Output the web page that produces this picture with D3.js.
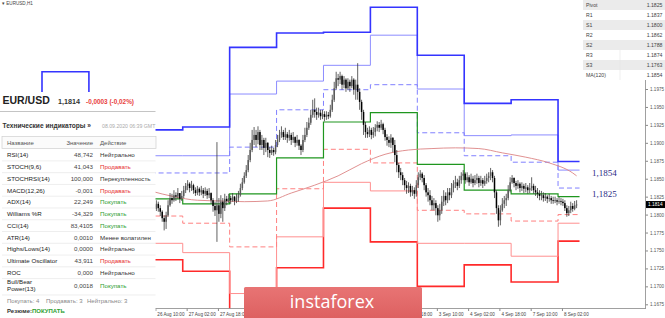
<!DOCTYPE html>
<html><head><meta charset="utf-8">
<script src="https://cdn.jsdelivr.net/npm/d3@7"></script>
<style>html,body{margin:0;padding:0;background:#fff}svg{display:block}</style>
</head><body>
<svg id="c" width="665" height="318"></svg>
<script>
// ---------------- DATA ----------------
const days = ["21 Aug","24 Aug","25 Aug","26 Aug","27 Aug","28 Aug","31 Aug","1 Sep","2 Sep","3 Sep","4 Sep","7 Sep","8 Sep"];
const levelR3 = [1.1950,1.1999,1.1935,1.1918,1.1922,1.2033,1.2053,1.2054,1.2089,1.2022,1.1955,1.1960,1.1874];
const levelR2 = [1.1920,1.1955,1.1905,1.1882,1.1882,1.1968,1.1986,1.2008,1.2050,1.1975,1.1910,1.1911,1.1862];
const levelR1 = [1.1890,1.1905,1.1875,1.1858,1.1858,1.1894,1.1946,1.1974,1.1981,1.1914,1.1882,1.1873,1.1837];
const levelP  = [1.1840,1.1850,1.1835,1.1822,1.1815,1.1829,1.1879,1.1929,1.1942,1.1870,1.1834,1.1829,1.1825];
const levelS1 = [1.1800,1.1810,1.1805,1.1798,1.1788,1.1755,1.1836,1.1891,1.1872,1.1806,1.1801,1.1791,1.1800];
const levelS2 = [1.1770,1.1780,1.1775,1.1760,1.1747,1.1690,1.1769,1.1845,1.1833,1.1760,1.1760,1.1742,1.1788];
const levelS3 = [1.1720,1.1740,1.1745,1.1737,1.1721,1.1630,1.1726,1.1809,1.1762,1.1700,1.1730,1.1706,1.1763];

const candleStart = "26 Aug 07:00";
const firstOpen = 1.1808;
const closes = [
1.1811,1.1813,1.1808,1.1815,1.1809,1.1804,1.1795,1.1790,1.1799,
1.1813,1.1823,1.1820,1.1827,1.1825,1.1830,1.1822,1.1826,
1.1834,1.1840,1.1843,1.1837,1.1841,1.1834,1.1830,1.1836,
1.1831,1.1834,1.1829,1.1833,1.1827,1.1830,1.1820,1.1812,
1.1806,1.1813,1.1801,1.1818,1.1809,1.1822,1.1819,1.1823,
1.1820,1.1825,1.1819,1.1823,1.1827,1.1837,1.1845,1.1854,
1.1862,1.1876,1.1890,1.1904,1.1911,1.1904,1.1915,1.1897,
1.1904,1.1893,1.1900,1.1890,1.1886,1.1890,1.1887,1.1897,
1.1904,1.1911,1.1915,1.1908,1.1912,1.1907,1.1911,1.1904,
1.1908,1.1900,1.1904,1.1896,1.1890,1.1904,1.1911,1.1921,
1.1928,1.1939,1.1946,1.1943,1.1939,1.1942,1.1937,1.1940,
1.1936,1.1939,1.1937,1.1946,1.1960,1.1976,1.1990,1.1988,
1.1993,1.1981,1.1988,1.1976,1.1985,1.1979,1.1988,1.1974,
1.1981,1.1971,1.1957,1.1943,1.1925,1.1915,1.1912,1.1918,
1.1911,1.1915,1.1921,1.1925,1.1921,1.1926,1.1918,1.1908,
1.1904,1.1900,1.1907,1.1897,1.1883,1.1869,1.1859,1.1855,
1.1848,1.1841,1.1837,1.1840,1.1831,1.1834,1.1829,1.1841,
1.1852,1.1857,1.1851,1.1841,1.1831,1.1827,1.1820,1.1813,
1.1816,1.1809,1.1799,1.1806,1.1818,1.1826,1.1820,1.1831,
1.1827,1.1837,1.1843,1.1845,1.1840,1.1848,1.1854,1.1857,
1.1848,1.1852,1.1845,1.1850,1.1844,1.1848,1.1851,1.1844,
1.1848,1.1843,1.1847,1.1851,1.1854,1.1859,1.1851,1.1831,
1.1809,1.1792,1.1806,1.1815,1.1820,1.1823,1.1834,1.1845,
1.1851,1.1844,1.1840,1.1843,1.1837,1.1840,1.1836,1.1838,
1.1834,1.1837,1.1840,1.1834,1.1831,1.1829,1.1826,1.1827,
1.1823,1.1825,1.1822,1.1823,1.1820,1.1819,1.1820,1.1818,
1.1819,1.1818,1.1816,1.1809,1.1802,1.1806,1.1812,1.1808,
1.1813,1.1814];
const highs = [
1.1820,1.1820,1.1816,1.1820,1.1818,1.1813,1.1806,1.1799,1.1804,
1.1820,1.1830,1.1829,1.1834,1.1831,1.1837,1.1830,1.1833,
1.1840,1.1844,1.1848,1.1845,1.1847,1.1843,1.1838,1.1840,
1.1838,1.1840,1.1837,1.1838,1.1836,1.1837,1.1831,1.1823,
1.1818,1.1901,1.1823,1.1827,1.1823,1.1829,1.1826,1.1829,
1.1826,1.1830,1.1826,1.1829,1.1833,1.1843,1.1851,1.1859,
1.1869,1.1883,1.1900,1.1918,1.1922,1.1918,1.1923,1.1918,
1.1911,1.1907,1.1907,1.1901,1.1894,1.1896,1.1893,1.1904,
1.1911,1.1918,1.1923,1.1918,1.1921,1.1915,1.1918,1.1914,
1.1915,1.1909,1.1911,1.1905,1.1898,1.1911,1.1921,1.1929,
1.1935,1.1946,1.1960,1.1962,1.1949,1.1949,1.1946,1.1946,
1.1944,1.1944,1.1943,1.1953,1.1967,1.1985,1.1999,1.1996,
1.1999,1.1995,1.1993,1.1990,1.1990,1.1988,1.1993,1.1990,
1.1988,1.2011,1.1976,1.1960,1.1946,1.1929,1.1921,1.1923,
1.1921,1.1922,1.1926,1.1930,1.1929,1.1932,1.1928,1.1921,
1.1912,1.1909,1.1912,1.1908,1.1904,1.1890,1.1872,1.1865,
1.1859,1.1851,1.1847,1.1845,1.1843,1.1840,1.1838,1.1848,
1.1859,1.1862,1.1859,1.1855,1.1844,1.1837,1.1834,1.1826,
1.1823,1.1820,1.1813,1.1815,1.1826,1.1834,1.1831,1.1837,
1.1837,1.1844,1.1848,1.1854,1.1850,1.1854,1.1859,1.1862,
1.1859,1.1859,1.1855,1.1857,1.1854,1.1855,1.1857,1.1854,
1.1854,1.1851,1.1854,1.1857,1.1859,1.1865,1.1862,1.1854,
1.1834,1.1813,1.1813,1.1823,1.1826,1.1829,1.1841,1.1852,
1.1855,1.1852,1.1847,1.1848,1.1845,1.1845,1.1843,1.1844,
1.1841,1.1844,1.1852,1.1843,1.1840,1.1837,1.1834,1.1833,
1.1831,1.1830,1.1827,1.1829,1.1826,1.1825,1.1825,1.1823,
1.1825,1.1823,1.1822,1.1820,1.1813,1.1812,1.1818,1.1816,
1.1819,1.1820];
const lows = [
1.1806,1.1806,1.1804,1.1805,1.1804,1.1798,1.1790,1.1778,1.1780,
1.1797,1.1811,1.1815,1.1818,1.1819,1.1822,1.1816,1.1819,
1.1823,1.1830,1.1834,1.1831,1.1833,1.1829,1.1826,1.1827,
1.1826,1.1827,1.1823,1.1826,1.1822,1.1823,1.1815,1.1804,
1.1798,1.1762,1.1790,1.1795,1.1790,1.1805,1.1813,1.1816,
1.1815,1.1818,1.1813,1.1816,1.1818,1.1825,1.1834,1.1843,
1.1851,1.1859,1.1873,1.1887,1.1897,1.1894,1.1898,1.1890,
1.1890,1.1883,1.1887,1.1880,1.1879,1.1883,1.1882,1.1884,
1.1894,1.1901,1.1907,1.1904,1.1904,1.1900,1.1903,1.1897,
1.1900,1.1894,1.1896,1.1890,1.1883,1.1887,1.1901,1.1908,
1.1918,1.1925,1.1935,1.1935,1.1932,1.1935,1.1932,1.1933,
1.1930,1.1932,1.1933,1.1935,1.1943,1.1957,1.1974,1.1979,
1.1982,1.1974,1.1976,1.1971,1.1974,1.1971,1.1976,1.1967,
1.1960,1.1960,1.1946,1.1932,1.1911,1.1907,1.1907,1.1908,
1.1905,1.1907,1.1909,1.1916,1.1915,1.1918,1.1912,1.1903,
1.1896,1.1894,1.1893,1.1887,1.1873,1.1859,1.1851,1.1848,
1.1841,1.1834,1.1829,1.1830,1.1825,1.1826,1.1822,1.1825,
1.1837,1.1848,1.1845,1.1834,1.1825,1.1818,1.1813,1.1806,
1.1806,1.1799,1.1790,1.1792,1.1801,1.1812,1.1813,1.1816,
1.1820,1.1823,1.1831,1.1837,1.1834,1.1837,1.1843,1.1848,
1.1843,1.1845,1.1840,1.1843,1.1838,1.1841,1.1843,1.1838,
1.1840,1.1837,1.1840,1.1843,1.1845,1.1848,1.1845,1.1823,
1.1801,1.1783,1.1785,1.1804,1.1809,1.1812,1.1820,1.1831,
1.1843,1.1838,1.1834,1.1836,1.1831,1.1833,1.1830,1.1831,
1.1829,1.1830,1.1833,1.1829,1.1826,1.1823,1.1820,1.1820,
1.1818,1.1819,1.1816,1.1818,1.1815,1.1815,1.1816,1.1813,
1.1815,1.1813,1.1812,1.1805,1.1797,1.1798,1.1802,1.1804,
1.1806,1.1809];

const maTimes = ["26 Aug 07:00","26 Aug 19:00","27 Aug 07:00","27 Aug 19:00","28 Aug 07:00","28 Aug 19:00","31 Aug 07:00","31 Aug 19:00","1 Sep 07:00","1 Sep 19:00","2 Sep 07:00","2 Sep 19:00","3 Sep 07:00","3 Sep 19:00","4 Sep 07:00","4 Sep 19:00","7 Sep 07:00","7 Sep 19:00","8 Sep 07:00","8 Sep 09:00"];
const maValues = [1.1833,1.1825,1.1820,1.1819,1.1818,1.1819,1.1830,1.1841,1.1854,1.1871,1.1884,1.1890,1.1892,1.1893,1.1892,1.1886,1.1880,1.1872,1.1858,1.1854];

const timeLabels = ["26 Aug 10:00","27 Aug 02:00","27 Aug 18:00","28 Aug 10:00","31 Aug 02:00","31 Aug 18:00","1 Sep 10:00","2 Sep 02:00","2 Sep 18:00","3 Sep 10:00","4 Sep 02:00","4 Sep 18:00","7 Sep 10:00","8 Sep 02:00"];
const priceTicks = [1.1675,1.1700,1.1725,1.1750,1.1775,1.1800,1.1825,1.1850,1.1875,1.1900,1.1925,1.1950,1.1975];

const pivotNames = ["Pivot","R1","S1","R2","S2","R3","S3","MA(120)"];
const pivotValues = ["1.1825","1.1837","1.1800","1.1862","1.1788","1.1874","1.1763","1.1854"];

const indNames = ["RSI(14)","STOCH(9,6)","STOCHRSI(14)","MACD(12,26)","ADX(14)","Williams %R","CCI(14)","ATR(14)","Highs/Lows(14)","Ultimate Oscillator","ROC","Bull/Bear|Power(13)"];
const indValues = ["48,742","41,043","100,000","-0,001","22,249","-34,329","83,4105","0,0010","0,0000","43,911","0,000","0,0018"];
const indActions = ["Нейтрально","Продавать","Перекупленность","Продавать","Покупать","Покупать","Покупать","Менее волатилен","Нейтрально","Продавать","Нейтрально","Покупать"];

const lastPrice = 1.1814;
const maLabel = 1.1854, pivotLabel = 1.1825;

// ---------------- SETUP ----------------
const svg = d3.select("#c");
const SANS = "'Liberation Sans', Arial, sans-serif";
const barIndex = s => { const p = s.split(" "); const d = p[0]+" "+p[1]; const h = p[2] ? +p[2].split(":")[0] : 0; return (days.indexOf(d)-1)*24 + h; };

const x = d3.scaleLinear().domain([0, 309]).range([42, 646]);
const y = d3.scaleLinear().domain([1.1675, 1.1975]).range([304.3, 89]);
const plotW = 646, plotH = 308.5;

const defs = svg.append("defs");
defs.append("clipPath").attr("id","clip")
  .append("rect").attr("x",0).attr("y",0).attr("width",plotW).attr("height",plotH);
const plot = svg.append("g").attr("clip-path","url(#clip)");

// ---- candles data
const c0 = barIndex(candleStart);
const candles = closes.map((c,i)=>({i:c0+i, o: i===0?firstOpen:closes[i-1], c, h:highs[i], l:lows[i]}));
const lastIdx = c0 + closes.length;

// ---- pivot step lines
const levelEnd = lastIdx + 1;
const stepLine = d3.line().curve(d3.curveStepAfter).x(d=>x(d[0])).y(d=>y(d[1]));
const lvPts = arr => { const pts = arr.map((v,k)=>[(k-1)*24, v]); pts.push([levelEnd, arr[arr.length-1]]); return pts; };
const series = [
  {v:levelS3, c:"#ff2a2a", w:1.6},
  {v:levelS2, c:"#ff8f8f", w:1},
  {v:levelS1, c:"#ff8080", w:1, dash:"5,3"},
  {v:levelR2, c:"#8c8cff", w:1},
  {v:levelR1, c:"#8080ff", w:1, dash:"5,3"},
  {v:levelR3, c:"#3434ff", w:1.6},
  {v:levelP,  c:"#1f961f", w:1.2}
];
series.forEach(s=>{
  plot.append("path").attr("d", stepLine(lvPts(s.v))).attr("fill","none")
    .attr("stroke", s.c).attr("stroke-width", s.w).attr("stroke-dasharray", s.dash||null);
});

// ---- MA
const maLine = d3.line().curve(d3.curveMonotoneX).x(d=>x(d[0]+0.5)).y(d=>y(d[1]));
plot.append("path").attr("d", maLine(maTimes.map((t,k)=>[barIndex(t), maValues[k]])))
  .attr("fill","none").attr("stroke","#dc8484").attr("stroke-width",0.9);

// ---- candles
const cg = plot.append("g");
cg.selectAll("line").data(candles).join("line")
  .attr("x1", d=>x(d.i+0.5)).attr("x2", d=>x(d.i+0.5))
  .attr("y1", d=>y(d.h)).attr("y2", d=>y(d.l))
  .attr("stroke","#3a3a3a").attr("stroke-width",0.8);
cg.selectAll("rect").data(candles).join("rect")
  .attr("x", d=>x(d.i+0.5)-0.75).attr("width",1.5)
  .attr("y", d=>y(Math.max(d.o,d.c)))
  .attr("height", d=>Math.max(0.8, Math.abs(y(d.o)-y(d.c))))
  .attr("fill", d=> d.c>=d.o ? "#5a5a5a" : "#000");

// ---- axes
const yAxis = svg.append("g").attr("transform","translate(645.5,0)")
  .call(d3.axisRight(y).tickValues(priceTicks).tickFormat(d3.format(".4f")).tickSize(2.5).tickPadding(2));
yAxis.select(".domain").remove();
yAxis.selectAll("text").attr("font-size",4.6).attr("font-family",SANS).attr("fill","#555");
yAxis.selectAll("line").attr("stroke","#888");
svg.append("line").attr("x1",645.5).attr("x2",645.5).attr("y1",0).attr("y2",plotH).attr("stroke","#888").attr("stroke-width",0.8);

const xAxis = svg.append("g").attr("transform",`translate(0,${plotH})`)
  .call(d3.axisBottom(x).tickValues(timeLabels.map(barIndex)).tickFormat((d,i)=>timeLabels[i]).tickSize(2.5).tickPadding(2));
xAxis.select(".domain").remove();
xAxis.selectAll("text").attr("font-size",4.6).attr("font-family",SANS).attr("fill","#444")
  .attr("text-anchor","start").attr("dx",1.5);
xAxis.selectAll("line").attr("stroke","#888");
svg.append("line").attr("x1",0).attr("x2",plotW).attr("y1",plotH).attr("y2",plotH).attr("stroke","#888").attr("stroke-width",0.8);

// price marker
svg.append("rect").attr("x",646).attr("y",y(lastPrice)-3.5).attr("width",19).attr("height",7).attr("fill","#000");
svg.append("text").attr("x",648).attr("y",y(lastPrice)+1.7).text(d3.format(".4f")(lastPrice))
  .attr("font-size",4.8).attr("font-family",SANS).attr("fill","#fff");

// level labels
const fmtC = v => d3.format(".4f")(v).replace(".", ",");
[maLabel, pivotLabel].forEach(v=>{
  svg.append("text").attr("x",592).attr("y",y(v)+0.6).text(fmtC(v))
    .attr("font-size",9).attr("font-family","'Liberation Serif','DejaVu Serif',serif").attr("fill","#2b2b85");
});

// ---- pivot table (top right)
const tb = svg.append("g");
pivotNames.forEach((n,k)=>{
  tb.append("rect").attr("x",583).attr("y",k*10).attr("width",82).attr("height",10)
    .attr("fill", k%2===0 ? "#ebebeb" : "#ffffff");
  tb.append("text").attr("x",586).attr("y",k*10+6.9).text(n)
    .attr("font-size",5.2).attr("font-family",SANS).attr("fill","#444");
  tb.append("text").attr("x",662.5).attr("y",k*10+6.9).text(pivotValues[k]).attr("text-anchor","end")
    .attr("font-size",5.2).attr("font-family",SANS).attr("fill","#444");
});
tb.append("line").attr("x1",620).attr("x2",620).attr("y1",50).attr("y2",80).attr("stroke","#e4e4e4").attr("stroke-width",0.6);

// top-left title
svg.append("text").attr("x",2).attr("y",5.3).text("▾ EURUSD,H1")
  .attr("font-size",4.6).attr("font-family",SANS).attr("fill","#444");

// ---- indicator panel
const pn = svg.append("g");
pn.append("rect").attr("x",0).attr("y",92).attr("width",155.5).attr("height",226).attr("fill","#fff");
pn.append("text").attr("x",2.5).attr("y",104.3).text("EUR/USD")
  .attr("font-size",10.5).attr("font-weight","bold").attr("font-family",SANS).attr("fill","#222");
pn.append("text").attr("x",58).attr("y",104).text(fmtC(lastPrice))
  .attr("font-size",7.2).attr("font-weight","bold").attr("font-family",SANS).attr("fill","#333");
pn.append("text").attr("x",86).attr("y",104).text("-0,0003 (-0,02%)")
  .attr("font-size",6.4).attr("font-weight","bold").attr("font-family",SANS).attr("fill","#e8413c");
pn.append("line").attr("x1",0).attr("x2",155.5).attr("y1",111.5).attr("y2",111.5).attr("stroke","#c4c4c4").attr("stroke-width",1.2);
pn.append("text").attr("x",2.5).attr("y",128.3).text("Технические индикаторы »")
  .attr("font-size",6.6).attr("font-weight","bold").attr("font-family",SANS).attr("fill","#333");
pn.append("text").attr("x",102).attr("y",128).text("08.09.2020 06:39 GMT")
  .attr("font-size",5.2).attr("font-family",SANS).attr("fill","#aaa");
pn.append("rect").attr("x",2).attr("y",136.5).attr("width",154).attr("height",12)
  .attr("fill","#fbfbfb").attr("stroke","#cfcfcf").attr("stroke-width",0.7);
[["Название",7,"start"],["Значение",93,"end"],["Действие",100,"start"]].forEach(h=>{
  pn.append("text").attr("x",h[1]).attr("y",145.3).text(h[0]).attr("text-anchor",h[2])
    .attr("font-size",6).attr("font-family",SANS).attr("fill","#555");
});
const actColor = a => a==="Покупать" ? "#2e9e2e" : a==="Продавать" ? "#e62e2e" : "#333";
indNames.forEach((n,i)=>{
  const cy = 155 + 11.77*i;
  const parts = n.split("|");
  if (parts.length===1) {
    pn.append("text").attr("x",7).attr("y",cy+2.2).text(n)
      .attr("font-size",6.2).attr("font-family",SANS).attr("fill","#222");
  } else {
    pn.append("text").attr("x",7).attr("y",cy-0.8).text(parts[0]).attr("font-size",6.2).attr("font-family",SANS).attr("fill","#222");
    pn.append("text").attr("x",7).attr("y",cy+6.5).text(parts[1]).attr("font-size",6.2).attr("font-family",SANS).attr("fill","#222");
  }
  const vy = parts.length===1 ? cy+2.2 : cy+3.3;
  pn.append("text").attr("x",93).attr("y",vy).text(indValues[i]).attr("text-anchor","end")
    .attr("font-size",6.2).attr("font-family",SANS).attr("fill","#444");
  pn.append("text").attr("x",100).attr("y",vy).text(indActions[i])
    .attr("font-size",6.2).attr("font-family",SANS).attr("fill",actColor(indActions[i]));
  const sepY = parts.length===1 ? cy+5.9 : cy+10.5;
  pn.append("line").attr("x1",2).attr("x2",155.5).attr("y1",sepY).attr("y2",sepY).attr("stroke","#e2e2e2").attr("stroke-width",0.6);
});
const cnt = {buy: indActions.filter(a=>a==="Покупать").length, sell: indActions.filter(a=>a==="Продавать").length, neu: indActions.filter(a=>a==="Нейтрально").length};
[[`Покупать: ${cnt.buy}`,7],[`Продавать: ${cnt.sell}`,46],[`Нейтрально: ${cnt.neu}`,87]].forEach(f=>{
  pn.append("text").attr("x",f[1]).attr("y",303.3).text(f[0]).attr("font-size",6).attr("font-family",SANS).attr("fill","#888");
});
const rz = pn.append("text").attr("x",7).attr("y",312.8).attr("font-size",6).attr("font-weight","bold").attr("font-family",SANS);
rz.append("tspan").text("Резюме:").attr("fill","#333");
rz.append("tspan").text("ПОКУПАТЬ").attr("fill","#2e9e2e");

// ---- instaforex badge
const grad = defs.append("linearGradient").attr("id","lg").attr("x1",0).attr("y1",0).attr("x2",0).attr("y2",1);
grad.append("stop").attr("offset","0%").attr("stop-color","#e87474");
grad.append("stop").attr("offset","100%").attr("stop-color","#dc5f5f");
svg.append("rect").attr("x",244).attr("y",287).attr("width",178).attr("height",34).attr("rx",1.5).attr("fill","url(#lg)");
svg.append("text").attr("x",332).attr("y",308.3).attr("text-anchor","middle").text("instaforex")
  .attr("font-size",18).attr("font-family","'Open Sans', 'Noto Sans', sans-serif").attr("fill","#fff");
</script>
</body></html>
